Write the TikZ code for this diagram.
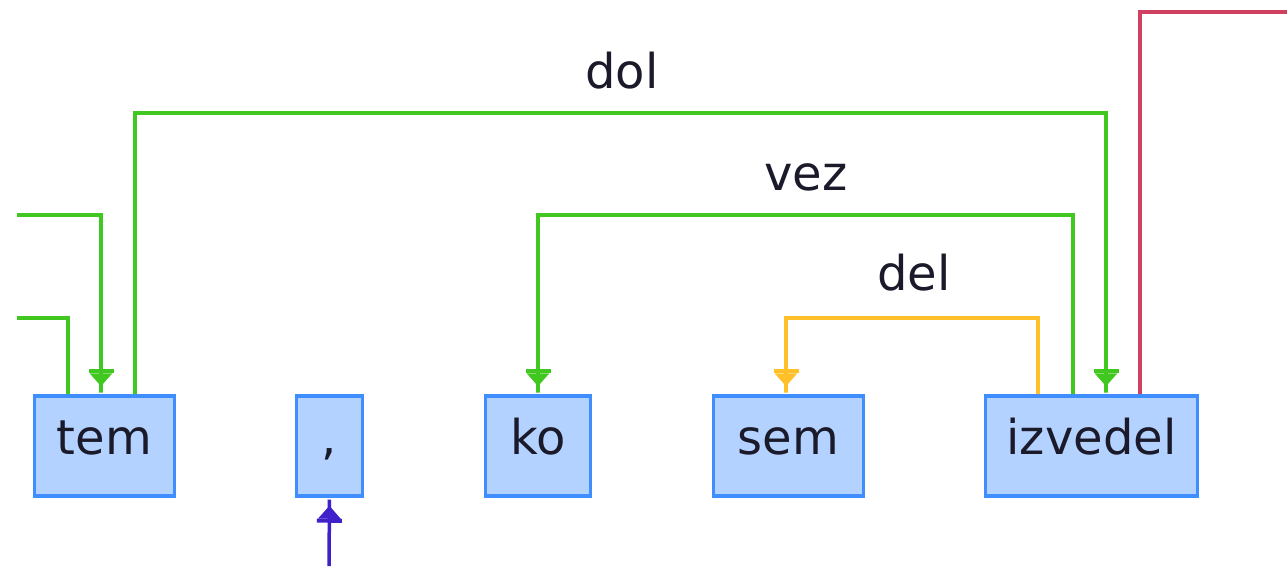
\documentclass[tikz,border=0pt]{standalone}
\usepackage{fontspec}
\setmainfont{DejaVu Sans}
\usetikzlibrary{arrows.meta}
\definecolor{edgegreen}{HTML}{40C820}
\definecolor{edgeorange}{HTML}{FFC02A}
\definecolor{edgered}{HTML}{D04060}
\definecolor{edgepurple}{HTML}{4020C8}
\definecolor{boxfill}{HTML}{B4D2FF}
\definecolor{boxline}{HTML}{3F8EFF}
\definecolor{txt}{HTML}{1A1A2A}
\begin{document}
\begin{tikzpicture}[x=1pt,y=-1pt,
  tok/.style={draw=boxline, fill=boxfill, line width=3.5pt, minimum height=100pt,
    inner sep=0pt, text height=16pt, text depth=0pt, text=txt,
    font=\fontsize{48}{52}\selectfont},
  lbl/.style={anchor=base, text=txt, inner sep=0pt, font=\fontsize{48}{52}\selectfont},
  conn/.style={line width=3.5pt},
  head/.style={-{Rectangle[length=4pt,width=25pt] Triangle[width=22pt,length=13pt] Rectangle[length=8pt,width=3.5pt]}}
]
\useasboundingbox (0,0) rectangle (1287,566);
% tokens
\node[tok, minimum width=140pt] (tem) at (104.5,446) {tem};
\node[tok, minimum width=66pt] (comma) at (329.5,446) {,};
\node[tok, minimum width=105pt] (ko) at (538,446) {ko};
\node[tok, minimum width=150pt] (sem) at (788.5,446) {sem};
\node[tok, minimum width=212pt] (izvedel) at (1091.5,446) {izvedel};
% free ends
\coordinate (L1) at (17,215);
\coordinate (L2) at (17,318);
\coordinate (R1) at (1287,12);
\coordinate (B1) at (329,566);
% edges
\draw[conn, edgegreen, head] (L1) -| ([xshift=-3.5pt]tem.north);
\draw[conn, edgegreen] (L2) -| ([xshift=-36.5pt]tem.north);
\draw[conn, edgegreen, head] ([xshift=30.5pt]tem.north) |- (620,113) -| ([xshift=14.5pt]izvedel.north);
\draw[conn, edgegreen, head] ([xshift=-18.5pt]izvedel.north) |- (800,215) -| (ko.north);
\draw[conn, edgeorange, head] ([xshift=-53.5pt]izvedel.north) |- (900,318) -| ([xshift=-2.5pt]sem.north);
\draw[conn, edgered] ([xshift=48.5pt]izvedel.north) |- (R1);
\draw[conn, edgepurple, head] (B1) -- (comma.south);
% labels
\node[lbl] (ldol) at (622,88) {dol};
\node[lbl] (lvez) at (806,190) {vez};
\node[lbl] (ldel) at (914,290) {del};
\end{tikzpicture}
\end{document}
